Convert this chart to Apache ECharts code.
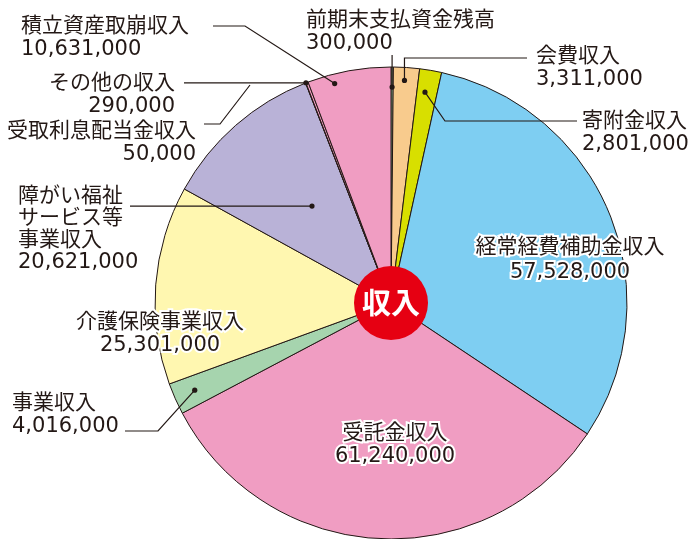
<!DOCTYPE html>
<html>
<head>
<meta charset="utf-8">
<script src="https://cdn.jsdelivr.net/npm/echarts@6/dist/echarts.min.js"></script>
<style>
  html, body { margin: 0; padding: 0; background: #fff; }
  #main { width: 691px; height: 539px; }
</style>
</head>
<body>
<div id="main"></div>
<script>
// 収入の内訳（円グラフ）
const categories = [
  '前期末支払資金残高',
  '会費収入',
  '寄附金収入',
  '経常経費補助金収入',
  '受託金収入',
  '事業収入',
  '介護保険事業収入',
  '障がい福祉\nサービス等\n事業収入',
  '受取利息配当金収入',
  'その他の収入',
  '積立資産取崩収入'
]
const values = [300000, 3311000, 2801000, 57528000, 61240000, 4016000, 25301000, 20621000, 50000, 290000, 10631000]
const colors = ['#a6d5ae', '#f8cb8d', '#d8df00', '#7ecef2', '#f09dc2', '#a6d4ae', '#fff7b0', '#b9b2d7', '#b9b2d7', '#f09dc2', '#f09dc2']
const centerTitle = '収入'

const CX = 391, CY = 303, R = 236
const FONT = '"DejaVu Sans", "Noto Sans CJK JP", sans-serif'
const INK = '#231815'
const total = values.reduce((a, b) => a + b, 0)

// 扇形の中の位置（t: 角度方向 0〜1, rf: 半径の比）を座標にする
function anchorOf(i, t, rf) {
  let before = 0
  for (let k = 0; k < i; k++) before += values[k]
  const ang = (before + values[i] * t) / total * Math.PI * 2
  return [CX + R * rf * Math.sin(ang), CY - R * rf * Math.cos(ang)]
}

// ラベルの置き場所と引き出し線
const labelPos = [
  { x: 306, y: 9.5, align: 'left', dot: [0.5, 0.915], line: a => [a, [a[0], 55]] },
  { x: 536, y: 45, align: 'left', dot: [0.45, 0.945], line: a => [a, [a[0], 58], [527, 58]] },
  { x: 582, y: 110, align: 'left', dot: [0.4, 0.905], line: a => [a, [445, 121], [577, 121]] },
  { x: 570, y: 235, align: 'center', lh: 25, inside: true },
  { x: 395, y: 422, align: 'center', inside: true },
  { x: 12, y: 392.5, align: 'left', dot: [0.5, 0.91], line: a => [a, [158, 431], [125, 431]] },
  { x: 160, y: 311.5, align: 'center', inside: true },
  { x: 18, y: 186, align: 'left', lh: 22, dot: [0.55, 0.53], line: a => [a, [130, a[1]]] },
  { x: 196, y: 120, align: 'right', line: () => [[250, 85], [220, 124], [204, 124]] },
  { x: 175, y: 72, align: 'right', dot: [0, 1], line: a => [a, [184, a[1]]] },
  { x: 21, y: 15, align: 'left', dot: [0.3, 0.96], line: a => [a, [245, 26], [213, 26]] }
]

const anchors = labelPos.map((p, i) => p.dot ? anchorOf(i, p.dot[0], p.dot[1]) : null)

const pieData = categories.map((name, i) => {
  const p = labelPos[i]
  const item = { name: name, value: values[i], itemStyle: { color: colors[i] } }
  item.label = { lineHeight: p.lh || 23 }
  if (p.inside) {
    item.label.textBorderColor = '#fff'
    item.label.textBorderWidth = 4
  }
  return item
})

// 引き出し線と点
const leaders = []
labelPos.forEach((p, i) => {
  if (!p.line) return
  leaders.push({
    type: 'polyline',
    shape: { points: p.line(anchors[i]) },
    style: { stroke: INK, lineWidth: 1.2, fill: null },
    z: 100
  })
  if (anchors[i]) {
    leaders.push({
      type: 'circle',
      shape: { cx: anchors[i][0], cy: anchors[i][1], r: 2.6 },
      style: { fill: INK },
      z: 101
    })
  }
})

const myChart = echarts.init(document.getElementById('main'))
const option = {
  animation: false,
  backgroundColor: '#fff',
  textStyle: { fontFamily: FONT },
  graphic: leaders,
  series: [
    {
      type: 'pie',
      center: [CX, CY],
      radius: [0, R],
      startAngle: 90,
      clockwise: true,
      avoidLabelOverlap: false,
      itemStyle: { borderColor: INK, borderWidth: 1 },
      label: {
        show: true,
        position: 'outside',
        color: INK,
        fontSize: 21,
        fontFamily: FONT,
        formatter: p => p.name + '\n' + p.value.toLocaleString('en-US')
      },
      labelLine: { show: false },
      labelLayout: params => {
        const p = labelPos[params.dataIndex]
        return { x: p.x, y: p.y, align: p.align, verticalAlign: 'top' }
      },
      emphasis: { disabled: true },
      data: pieData
    },
    {
      type: 'pie',
      center: [CX, CY],
      radius: [0, 37],
      silent: true,
      itemStyle: { color: '#e60012', borderWidth: 0 },
      label: {
        show: true,
        position: 'center',
        formatter: '{b}',
        color: '#fff',
        fontSize: 29,
        fontWeight: 'bold',
        fontFamily: '"Noto Sans CJK JP", sans-serif'
      },
      labelLine: { show: false },
      emphasis: { disabled: true },
      data: [{ name: centerTitle, value: 1 }]
    }
  ]
}
option && myChart.setOption(option)
</script>
</body>
</html>
